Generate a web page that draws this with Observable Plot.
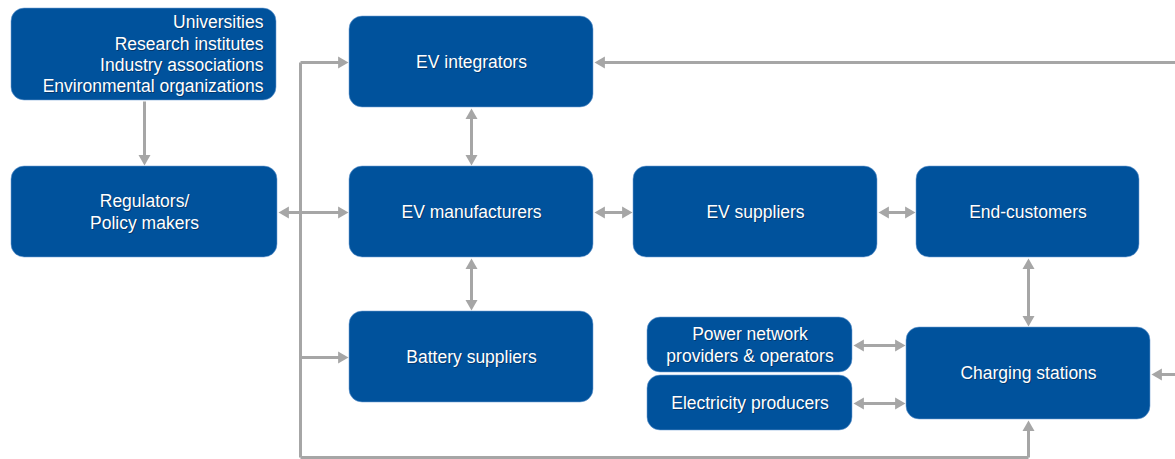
<!DOCTYPE html>
<html>
<head>
<meta charset="utf-8">
<script src="https://cdn.jsdelivr.net/npm/d3@7"></script>
<script src="https://cdn.jsdelivr.net/npm/@observablehq/plot@0.6"></script>
<style>
  html, body { margin: 0; padding: 0; background: #fff; }
  #chart svg { display: block; }
</style>
</head>
<body>
<div id="chart"></div>
<script>
// Boxes of the diagram (left, right, top, bottom in picture pixels)
const boxLabels = [
  "Universities\nResearch institutes\nIndustry associations\nEnvironmental organizations",
  "Regulators/\nPolicy makers",
  "EV integrators",
  "EV manufacturers",
  "Battery suppliers",
  "EV suppliers",
  "End-customers",
  "Power network\nproviders & operators",
  "Electricity producers",
  "Charging stations"
];
const boxX1 = [11, 11, 349, 349, 349, 633, 916, 647, 647, 906];
const boxX2 = [276, 277, 593, 593, 593, 877, 1139, 852, 852, 1150];
const boxY1 = [8, 166, 16, 166, 311, 166, 166, 317, 375, 327];
const boxY2 = [100, 257, 107, 257, 402, 257, 257, 372, 430, 419];
const labelAlign = ["end", "middle", "middle", "middle", "middle", "middle", "middle", "middle", "middle", "middle"];

// Connectors: from (x1,y1) to (x2,y2); head at start / end
const segX1 = [144, 300, 300, 1028, 300, 278, 300, 471, 471, 594, 878, 1028, 853, 853, 1175, 1175];
const segY1 = [101, 62, 457, 457, 62, 212, 357, 108, 258, 212, 212, 258, 345, 403, 62, 374];
const segX2 = [144, 300, 1028, 1028, 348, 348, 348, 471, 471, 632, 915, 1028, 905, 905, 594, 1151];
const segY2 = [165, 457, 457, 420, 62, 212, 357, 165, 310, 212, 212, 326, 345, 403, 62, 374];
const headStart = [0, 0, 0, 0, 0, 1, 0, 1, 1, 1, 1, 1, 1, 1, 0, 0];
const headEnd   = [1, 0, 0, 1, 1, 1, 1, 1, 1, 1, 1, 1, 1, 1, 1, 1];

const BLUE = "#00529c";
const GRAY = "#a6a6a6";
const HEAD_SIDE = 12;
const HEAD_H = HEAD_SIDE * Math.sqrt(3) / 2;
const HEAD_R = Math.sqrt((HEAD_SIDE * HEAD_SIDE * Math.sqrt(3) / 4) / Math.PI);

const boxes = boxLabels.map((label, i) => {
  const align = labelAlign[i];
  return {
    label, x1: boxX1[i], x2: boxX2[i], y1: boxY1[i], y2: boxY2[i],
    tx: align === "end" ? boxX2[i] - 13 : (boxX1[i] + boxX2[i]) / 2,
    ty: (boxY1[i] + boxY2[i]) / 2 - 1,
    anchor: align
  };
});
const boxesMid = boxes.filter(d => d.anchor === "middle");
const boxesEnd = boxes.filter(d => d.anchor === "end");

const lines = [];
const heads = [];
segX1.forEach((_, i) => {
  let x1 = segX1[i], y1 = segY1[i], x2 = segX2[i], y2 = segY2[i];
  const dx = x2 - x1, dy = y2 - y1, len = Math.hypot(dx, dy);
  const ux = dx / len, uy = dy / len;
  const angEnd = Math.atan2(uy, ux) * 180 / Math.PI + 90;
  const c = HEAD_H * 2 / 3;
  if (headEnd[i]) {
    heads.push({x: segX2[i] - ux * c, y: segY2[i] - uy * c, rot: angEnd});
    x2 -= ux * (HEAD_H - 2); y2 -= uy * (HEAD_H - 2);
  }
  if (headStart[i]) {
    heads.push({x: segX1[i] + ux * c, y: segY1[i] + uy * c, rot: angEnd + 180});
    x1 += ux * (HEAD_H - 2); y1 += uy * (HEAD_H - 2);
  }
  lines.push({x1, y1, x2, y2});
});

const FONT = 17.5;
const LH = 1.22;
const textMarks = (data, anchor) => [
  Plot.text(data, {x: "tx", y: "ty", text: "label", textAnchor: anchor, fill: "#0a1f3f", fillOpacity: 0.55, fontSize: FONT, lineHeight: LH, dx: 1, dy: 1}),
  Plot.text(data, {x: "tx", y: "ty", text: "label", textAnchor: anchor, fill: "#ffffff", fontSize: FONT, lineHeight: LH})
];

const chart = Plot.plot({
  width: 1175,
  height: 459,
  margin: 0,
  style: {fontFamily: "Liberation Sans, Arial, sans-serif", background: "#fff"},
  x: {domain: [0, 1175], range: [0, 1175], axis: null},
  y: {domain: [0, 459], range: [0, 459], axis: null},
  marks: [
    Plot.link(lines, {x1: "x1", y1: "y1", x2: "x2", y2: "y2", stroke: GRAY, strokeWidth: 3, strokeLinecap: "butt"}),
    Plot.dot(heads, {x: "x", y: "y", rotate: "rot", symbol: "triangle", r: HEAD_R, fill: GRAY, stroke: "none"}),
    Plot.rect(boxes, {x1: "x1", x2: "x2", y1: "y1", y2: "y2", fill: BLUE, rx: 13, stroke: "#6f9fd6", strokeWidth: 0.8, strokeOpacity: 0.7}),
    ...textMarks(boxesMid, "middle"),
    ...textMarks(boxesEnd, "end")
  ]
});
document.getElementById("chart").appendChild(chart);
</script>
</body>
</html>
